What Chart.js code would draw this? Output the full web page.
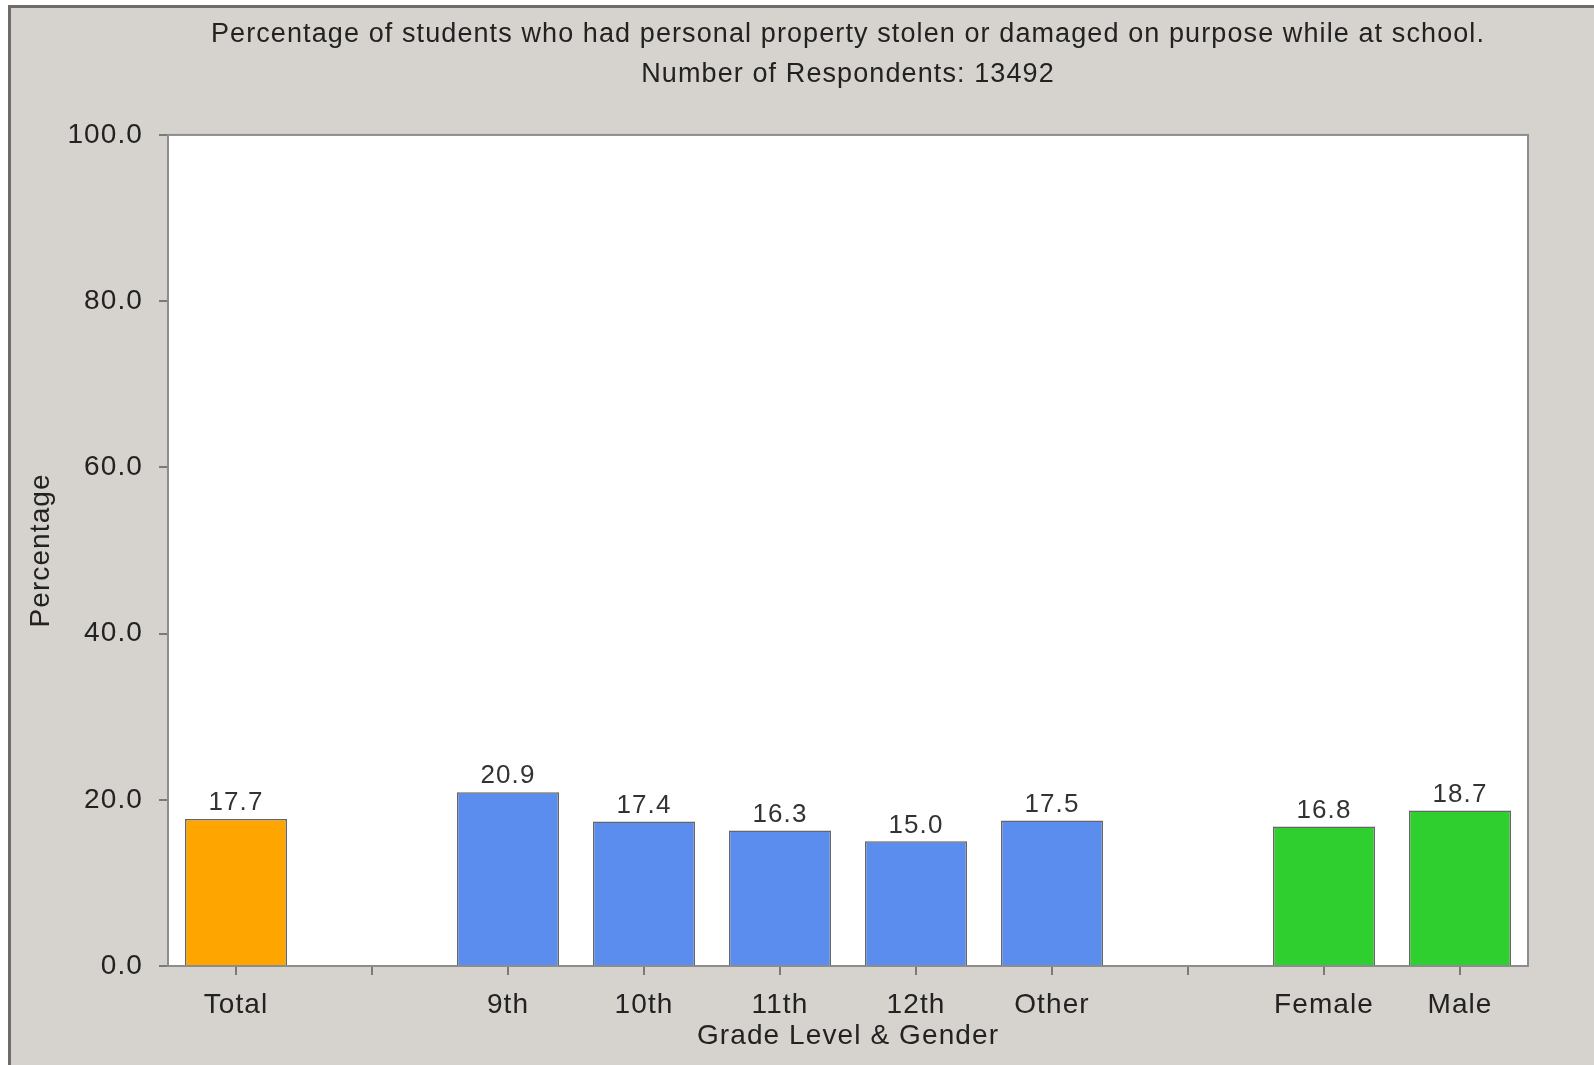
<!DOCTYPE html>
<html lang="en">
<head>
<meta charset="UTF-8">
<title>Stolen or damaged property</title>
<script src="https://cdn.jsdelivr.net/npm/chart.js"></script>
<style>
    html, body { margin: 0; padding: 0; background: #ffffff; }
    #grafico { display: block; }
</style>
</head>
<body>
<canvas id="grafico" width="1594" height="1065"></canvas>
<script>
    // dados
    const categorias = ['Total', '', '9th', '10th', '11th', '12th', 'Other', '', 'Female', 'Male'];
    const valores = [17.7, null, 20.9, 17.4, 16.3, 15.0, 17.5, null, 16.8, 18.7];
    const cores = ['#FFA500', null, '#5B8DEF', '#5B8DEF', '#5B8DEF', '#5B8DEF', '#5B8DEF', null, '#2FCF2F', '#2FCF2F'];
    const ticksY = [0, 20, 40, 60, 80, 100];
    const titulo = ['Percentage of students who had personal property stolen or damaged on purpose while at school.',
                    'Number of Respondents: 13492'];

    const fonte = '"Liberation Sans", Arial, sans-serif';

    // o texto do original e um pouco mais espacado
    const espacamento = {
        id: 'espacamento',
        beforeUpdate(chart) { chart.ctx.letterSpacing = '1.1px'; },
        beforeDraw(chart) { chart.ctx.letterSpacing = '1.1px'; }
    };

    // fundo cinza + area do grafico branca + rotulos de valor
    const fundo = {
        id: 'fundo',
        beforeDraw(chart) {
            const c = chart.ctx;
            const a = chart.chartArea;
            c.save();
            c.fillStyle = '#ffffff';
            c.fillRect(0, 0, chart.width, chart.height);
            c.fillStyle = '#d6d2cd';
            c.fillRect(8, 5, chart.width - 8, chart.height - 5);
            c.fillStyle = '#6e6b68';
            c.fillRect(8, 5, 3, chart.height - 5);
            c.fillRect(8, 5, chart.width - 8, 3);
            c.fillStyle = '#ffffff';
            c.fillRect(a.left, a.top, a.right - a.left, a.bottom - a.top);
            c.restore();
        },
        afterDraw(chart) {
            const c = chart.ctx;
            const a = chart.chartArea;
            c.save();
            c.strokeStyle = '#8c8c8c';
            c.lineWidth = 2;
            c.strokeRect(a.left, a.top, a.right - a.left, a.bottom - a.top);
            c.font = '26px ' + fonte;
            c.fillStyle = '#333333';
            c.textAlign = 'center';
            c.textBaseline = 'bottom';
            chart.getDatasetMeta(0).data.forEach((barra, i) => {
                if (valores[i] == null) return;
                c.fillText(valores[i].toFixed(1), barra.x, barra.y - 3);
            });
            c.restore();
        }
    };

    const ctx = document.getElementById('grafico').getContext('2d');

    const grafico = new Chart(ctx, {
        type: 'bar',
        data: {
            labels: categorias,
            datasets: [{
                data: valores,
                backgroundColor: cores,
                borderColor: 'rgba(50, 50, 50, 0.75)',
                borderWidth: 1.5,
                borderSkipped: 'bottom',
                barPercentage: 0.75,
                categoryPercentage: 1.0
            }]
        },
        options: {
            responsive: false,
            animation: false,
            layout: { padding: { left: 0, right: 66, top: 0, bottom: 0 } },
            plugins: {
                legend: { display: false },
                tooltip: { enabled: false },
                title: {
                    display: true,
                    text: titulo,
                    fullSize: false,
                    color: '#222222',
                    font: { family: fonte, size: 27, weight: 'normal', lineHeight: 1.48 },
                    padding: { top: 15, bottom: 40 }
                }
            },
            scales: {
                x: {
                    offset: true,
                    grid: { display: true, offset: false, drawOnChartArea: false, drawTicks: true, tickLength: 9, color: '#7a7a7a', lineWidth: 2 },
                    border: { display: true, color: '#808080', width: 2 },
                    ticks: {
                        color: '#222222',
                        font: { family: fonte, size: 28 },
                        padding: 13,
                        maxRotation: 0,
                        autoSkip: false
                    },
                    title: {
                        display: true,
                        text: 'Grade Level & Gender',
                        color: '#222222',
                        font: { family: fonte, size: 28 },
                        padding: { top: 0, bottom: 12 }
                    },
                    afterFit(scale) { scale.height = 99; }
                },
                y: {
                    min: 0,
                    max: 100,
                    afterBuildTicks(scale) { scale.ticks = ticksY.map(v => ({ value: v })); },
                    grid: { display: true, drawOnChartArea: false, drawTicks: true, tickLength: 9, color: '#7a7a7a', lineWidth: 2 },
                    border: { display: true, color: '#808080', width: 2 },
                    ticks: {
                        color: '#222222',
                        font: { family: fonte, size: 28 },
                        padding: 16,
                        callback: v => Number(v).toFixed(1)
                    },
                    title: {
                        display: true,
                        text: 'Percentage',
                        color: '#222222',
                        font: { family: fonte, size: 28 },
                        padding: { top: 24, bottom: 0 }
                    },
                    afterFit(scale) { scale.width = 168; }
                }
            }
        },
        plugins: [espacamento, fundo]
    });
</script>
</body>
</html>
